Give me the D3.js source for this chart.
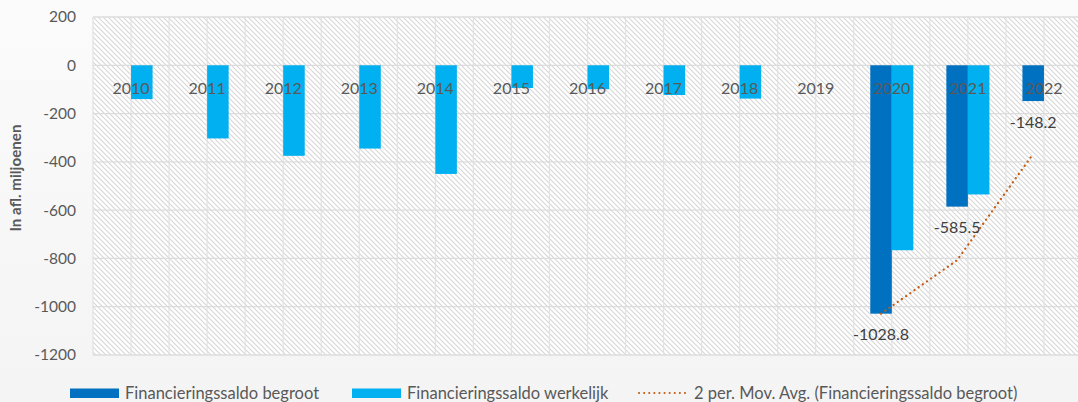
<!DOCTYPE html>
<html>
<head>
<meta charset="utf-8">
<script src="https://cdn.jsdelivr.net/npm/d3@7"></script>
<style>
  html, body { margin: 0; padding: 0; background: #f8f8f8; }
  svg { display: block; font-family: Lato, "Open Sans", sans-serif; }
</style>
</head>
<body>
<svg id="chart"></svg>
<script>
document.addEventListener('DOMContentLoaded', function() {
    const years = ["2010", "2011", "2012", "2013", "2014", "2015", "2016", "2017", "2018", "2019", "2020", "2021", "2022"];
    const begroot = [null, null, null, null, null, null, null, null, null, null, -1028.8, -585.5, -148.2];
    const werkelijk = [-140, -303, -375, -345, -450, -94, -99, -123, -138, null, -766, -535, null];
    const movAvg = [null, null, null, null, null, null, null, null, null, null, -1028.8, -807.2, -366.9];
    const yTicks = [200, 0, -200, -400, -600, -800, -1000, -1200];

    const W = 1078, H = 402;
    const margin = { top: 17, right: -4, bottom: 47, left: 93 };
    const width = W - margin.left - margin.right;
    const height = H - margin.top - margin.bottom;

    const svg = d3.select("#chart").attr("width", W).attr("height", H);

    const defs = svg.append("defs");
    const bgGrad = defs.append("linearGradient").attr("id", "bg").attr("x1", 0).attr("y1", 0).attr("x2", 0).attr("y2", 1);
    bgGrad.append("stop").attr("offset", "0%").attr("stop-color", "#fbfbfb");
    bgGrad.append("stop").attr("offset", "100%").attr("stop-color", "#f4f4f4");

    const pat = defs.append("pattern")
        .attr("id", "hatch")
        .attr("patternUnits", "userSpaceOnUse")
        .attr("width", 5)
        .attr("height", 5);
    pat.append("rect").attr("width", 5).attr("height", 5).attr("fill", "#ffffff");
    pat.append("path")
        .attr("d", "M0,0 L5,5 M-1,4 L1,6 M4,-1 L6,1")
        .attr("stroke", "#d6d6d6")
        .attr("stroke-width", 1.05);

    svg.append("rect").attr("width", W).attr("height", H).attr("fill", "url(#bg)");

    const g = svg.append("g").attr("transform", `translate(${margin.left},${margin.top})`);

    const x = d3.scaleBand().domain(years).range([0, width]).paddingInner(0).paddingOuter(0);
    const y = d3.scaleLinear().domain([200, -1200]).range([0, height]);
    const barW = x.bandwidth() * 0.283;
    const fmt = v => d3.format(".1f")(v).replace("\u2212", "-");

    // plot background
    g.append("rect")
        .attr("width", width)
        .attr("height", height)
        .attr("fill", "url(#hatch)");

    // vertical gridlines (every half category)
    const vx = [];
    years.forEach(d => { vx.push(x(d)); vx.push(x(d) + x.bandwidth() / 2); });
    g.selectAll(".vgrid")
        .data(vx)
        .enter().append("line")
        .attr("x1", d => d).attr("x2", d => d)
        .attr("y1", 0).attr("y2", height)
        .attr("stroke", "#e2e2e2")
        .attr("stroke-width", 1.2);

    // horizontal gridlines
    g.selectAll(".hgrid")
        .data(yTicks)
        .enter().append("line")
        .attr("x1", 0).attr("x2", width)
        .attr("y1", d => y(d)).attr("y2", d => y(d))
        .attr("stroke", "#dcdcdc")
        .attr("stroke-width", 1.3);

    // y tick labels
    g.selectAll(".ytick")
        .data(yTicks)
        .enter().append("text")
        .attr("x", -17)
        .attr("y", d => y(d))
        .attr("dy", "0.35em")
        .attr("text-anchor", "end")
        .attr("fill", "#595959")
        .style("font-size", "15.5px")
        .text(d => d);

    // y axis title
    svg.append("text")
        .attr("transform", "translate(21,178) rotate(-90)")
        .attr("text-anchor", "middle")
        .attr("fill", "#595959")
        .style("font-size", "15.2px")
        .style("font-weight", "bold")
        .text("In afl. miljoenen");

    // bars
    g.selectAll(".bar-b")
        .data(years.map((yr, i) => ({ yr, v: begroot[i] })).filter(d => d.v !== null))
        .enter().append("rect")
        .attr("x", d => x(d.yr) + x.bandwidth() / 2 - barW)
        .attr("y", y(0))
        .attr("width", barW)
        .attr("height", d => y(d.v) - y(0))
        .attr("fill", "#0070C0");

    g.selectAll(".bar-w")
        .data(years.map((yr, i) => ({ yr, v: werkelijk[i] })).filter(d => d.v !== null))
        .enter().append("rect")
        .attr("x", d => x(d.yr) + x.bandwidth() / 2)
        .attr("y", y(0))
        .attr("width", barW)
        .attr("height", d => y(d.v) - y(0))
        .attr("fill", "#00B0F0");

    // category labels (drawn over bars, just below zero line)
    g.selectAll(".xlab")
        .data(years)
        .enter().append("text")
        .attr("x", d => x(d) + x.bandwidth() / 2)
        .attr("y", y(0) + 23)
        .attr("dy", "0.35em")
        .attr("text-anchor", "middle")
        .attr("fill", "#595959")
        .style("font-size", "16px")
        .text(d => d);

    // moving average line
    const line = d3.line()
        .defined(d => d.v !== null)
        .x(d => x(d.yr) + x.bandwidth() / 2 - barW / 2)
        .y(d => y(d.v));
    g.append("path")
        .datum(years.map((yr, i) => ({ yr, v: movAvg[i] })))
        .attr("d", line)
        .attr("fill", "none")
        .attr("stroke", "#C55A11")
        .attr("stroke-width", 2.2)
        .attr("stroke-linecap", "round")
        .attr("stroke-dasharray", "0.1 5");

    // data labels for begroot
    g.selectAll(".dlab")
        .data(years.map((yr, i) => ({ yr, v: begroot[i] })).filter(d => d.v !== null))
        .enter().append("text")
        .attr("x", d => x(d.yr) + x.bandwidth() / 2 - barW / 2)
        .attr("y", d => y(d.v) + 21)
        .attr("dy", "0.35em")
        .attr("text-anchor", "middle")
        .attr("fill", "#404040")
        .style("font-size", "16px")
        .text(d => fmt(d.v));

    // legend
    const legend = svg.append("g").attr("transform", "translate(0,393)");
    const items = [
        { name: "Financieringssaldo begroot", type: "rect", color: "#0070C0", x: 70 },
        { name: "Financieringssaldo werkelijk", type: "rect", color: "#00B0F0", x: 352 },
        { name: "2 per. Mov. Avg. (Financieringssaldo begroot)", type: "line", color: "#C55A11", x: 639 }
    ];
    items.forEach(it => {
        const row = legend.append("g").attr("transform", `translate(${it.x},0)`);
        if (it.type === "rect") {
            row.append("rect")
                .attr("x", 0).attr("y", -4.5)
                .attr("width", 49).attr("height", 9.5)
                .attr("fill", it.color);
        } else {
            row.append("line")
                .attr("x1", 0).attr("x2", 49)
                .attr("y1", 0).attr("y2", 0)
                .attr("stroke", it.color)
                .attr("stroke-width", 2)
                .attr("stroke-linecap", "round")
                .attr("stroke-dasharray", "0.1 5");
        }
        row.append("text")
            .attr("x", 55)
            .attr("y", 0)
            .attr("dy", "0.35em")
            .attr("fill", "#595959")
            .style("font-size", "16.5px")
            .text(it.name);
    });
});
</script>
</body>
</html>
